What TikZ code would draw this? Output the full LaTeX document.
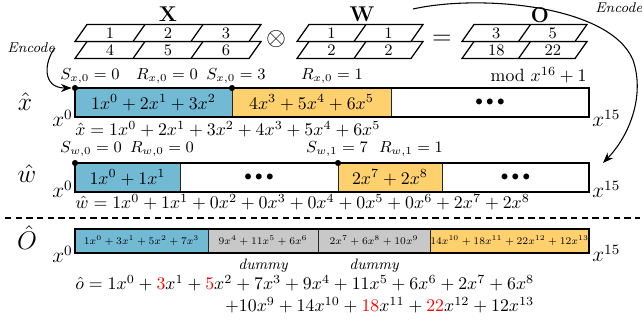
\documentclass[tikz,border=0pt]{standalone}
\usepackage{amsmath}
\usepackage{graphicx}
\usetikzlibrary{arrows.meta}
\definecolor{segblue}{RGB}{114,186,212}
\definecolor{segyellow}{RGB}{254,208,110}
\definecolor{seggray}{RGB}{200,200,200}
\newcommand\bdots{{\footnotesize$\bullet\bullet\bullet$}}
\newcommand\smallseg[1]{\scalebox{0.82}{\scriptsize$#1$}}
\newcommand\segbox[6]{%
  \path[segline,fill=#6] (#2,#4) rectangle (#3,#5);
  \coordinate (#1) at ({(#2+#3)/2},{(#4+#5)/2});}
\newcommand\gridsheet[5]{% x0, ybottom, width, ncells, labels
  \draw[gridline,fill=white] (#1,#2) -- ++(#3,0) -- ++(12,-17) -- ++(-#3,0) -- cycle;
  \foreach \lab [count=\i] in {#5} {
    \ifnum\i<#4 \draw[gridline] ({#1+\i*#3/#4},#2) -- ++(12,-17);\fi
    \node[gridnum] at ({#1+(\i-0.5)*#3/#4+6},{#2-8.5}) {\lab};
  }}
\begin{document}
\begin{tikzpicture}[x=0.5618pt,y=-0.5618pt,
  segline/.style={draw=black!85,line width=0.5pt},
  barline/.style={draw=black,line width=0.7pt},
  gridline/.style={draw=black,line width=0.7pt},
  gridnum/.style={font=\small,inner sep=0pt},
  enc/.style={-{Stealth[length=6pt,width=4.5pt]},line width=0.6pt},
  lbl/.style={font=\small,anchor=base,inner sep=0pt},
  rowlbl/.style={font=\Large,anchor=base,inner sep=0pt},
  xpow/.style={font=\large,inner sep=0pt},
  mat/.style={font=\large\bfseries,inner sep=0pt},
  dot/.style={circle,fill=black,inner sep=0pt,minimum size=3.4pt},
  enctext/.style={font=\footnotesize\itshape,inner sep=0pt},
  dummy/.style={font=\fontsize{8.5}{10}\selectfont\itshape,anchor=base,inner sep=0pt}]
\useasboundingbox (0,0) rectangle (642,325);

% ---------- top matrices ----------
\node[mat] (lX) at (168,14) {X};
\node[mat] (lW) at (362,14) {W};
\node[mat] (lO) at (540,15) {O};
\gridsheet{75}{58.5}{174}{3}{4,5,6}
\gridsheet{75}{41.5}{174}{3}{1,2,3}
\gridsheet{297}{58.5}{114}{2}{2,2}
\gridsheet{297}{41.5}{114}{2}{1,1}
\gridsheet{462}{58.5}{113}{2}{18,22}
\gridsheet{462}{41.5}{113}{2}{3,5}
\node[font=\Large,inner sep=0pt] (otimes) at (276,39) {$\otimes$};
\node[font=\Large,inner sep=0pt] (eq) at (442,40) {$=$};

% ---------- x hat row ----------
\node[lbl] (sx0) at (90,80) {$S_{x,0}=0$};
\node[lbl] (rx0) at (167,80) {$R_{x,0}=0$};
\node[lbl] (sx1) at (236,80) {$S_{x,0}=3$};
\node[lbl] (rx1) at (332,80) {$R_{x,0}=1$};
\node[anchor=base east,inner sep=0pt] (mod) at (587,82) {$\mathrm{mod}\ x^{16}+1$};
\segbox{xa}{75}{232}{88}{117}{segblue}
\segbox{xb}{232}{391}{88}{117}{segyellow}
\segbox{xc}{391}{589}{88}{117}{white}
\draw[barline] (75,88) rectangle (589,117);
\node (xat) at (xa) {$1x^0+2x^1+3x^2$};
\node (xbt) at (xb) {$4x^3+5x^4+6x^5$};
\node (xct) at (xc) {\bdots};
\node[dot] (dx0) at (75,88) {};
\node[dot] (dx1) at (232,88) {};
\node[rowlbl] (lx) at (25,111) {$\hat{x}$};
\node[xpow,anchor=base east] (x0a) at (73,127) {$x^0$};
\node[xpow,anchor=base west] (x15a) at (592,127) {$x^{15}$};
\node[anchor=base west,inner sep=0pt] (fx) at (75,136) {$\hat{x}=1x^0+2x^1+3x^2+4x^3+5x^4+6x^5$};

% ---------- w hat row ----------
\node[lbl] (sw0) at (91,153) {$S_{w,0}=0$};
\node[lbl] (rw0) at (162,153) {$R_{w,0}=0$};
\node[lbl] (sw1) at (337,153) {$S_{w,1}=7$};
\node[lbl] (rw1) at (411,153) {$R_{w,1}=1$};
\segbox{wa}{75}{180}{163}{192}{segblue}
\segbox{wb}{180}{338}{163}{192}{white}
\segbox{wc}{338}{442}{163}{192}{segyellow}
\segbox{wd}{442}{589}{163}{192}{white}
\draw[barline] (75,163) rectangle (589,192);
\node (wat) at (wa) {$1x^0+1x^1$};
\node (wbt) at (wb) {\bdots};
\node (wct) at (wc) {$2x^7+2x^8$};
\node (wdt) at (wd) {\bdots};
\node[dot] (dw0) at (75,163) {};
\node[dot] (dw1) at (338,163) {};
\node[rowlbl] (lw) at (27,183) {$\hat{w}$};
\node[xpow,anchor=base east] (x0b) at (73,198) {$x^0$};
\node[xpow,anchor=base west] (x15b) at (592,198) {$x^{15}$};
\node[anchor=base west,inner sep=0pt] (fw) at (75,209) {$\hat{w}=1x^0+1x^1+0x^2+0x^3+0x^4+0x^5+0x^6+2x^7+2x^8$};

% ---------- separator ----------
\coordinate (dl) at (5,218);
\coordinate (dr) at (640,218);
\draw[dash pattern=on 3.6pt off 2.4pt,line width=0.6pt] (dl) -- (dr);

% ---------- O hat row ----------
\segbox{oa}{75}{208}{229}{253}{segblue}
\segbox{ob}{208}{318}{229}{253}{seggray}
\segbox{oc}{318}{430}{229}{253}{seggray}
\segbox{od}{430}{589}{229}{253}{segyellow}
\draw[barline] (75,229) rectangle (589,253);
\node (oat) at (oa) {\smallseg{1x^0+3x^1+5x^2+7x^3}};
\node (obt) at (ob) {\smallseg{9x^4+11x^5+6x^6}};
\node (oct) at (oc) {\smallseg{2x^7+6x^8+10x^9}};
\node (odt) at (od) {\smallseg{14x^{10}+18x^{11}+22x^{12}+12x^{13}}};
\node[rowlbl] (lo) at (27,250) {$\hat{O}$};
\node[xpow,anchor=base east] (x0c) at (73,263) {$x^0$};
\node[xpow,anchor=base west] (x15c) at (592,262) {$x^{15}$};
\coordinate (lvl0) at (0,270);
\node[dummy] (dm1) at (ob |- lvl0) {dummy};
\node[dummy] (dm2) at (oc |- lvl0) {dummy};
\node[anchor=base west,inner sep=0pt] (fo1) at (75,290) {$\hat{o}=1x^0+{\color{red}3}x^1+{\color{red}5}x^2+7x^3+9x^4+11x^5+6x^6+2x^7+6x^8$};
\coordinate (lvl2) at (0,312);
\node[anchor=base east,inner sep=0pt] (fo2) at (fo1.base east |- lvl2) {$+10x^9+14x^{10}+{\color{red}18}x^{11}+{\color{red}22}x^{12}+12x^{13}$};

% ---------- encode arrows ----------
\node[enctext] (enc1) at (31,48) {Encode};
\draw[enc] (enc1.east) .. controls (44,62) and (42,88) .. (dx0.west);
\node[enctext,anchor=west] (enc2) at (595,8) {Encode};
\coordinate (e2s) at (413,9);
\coordinate (e2m) at (633,60);
\coordinate (e2e) at (603,163);
\draw[enc] (e2s) .. controls (480,-6) and (610,5) .. (e2m) .. controls (645,95) and (630,135) .. (e2e);
\end{tikzpicture}
\end{document}
